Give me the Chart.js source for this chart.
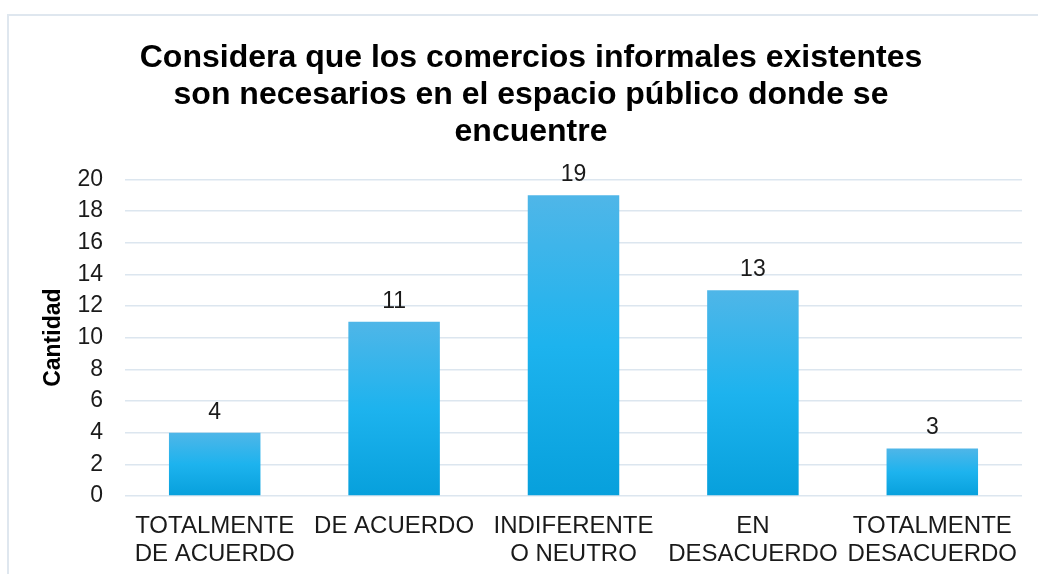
<!DOCTYPE html>
<html>
<head>
<meta charset="utf-8">
<script src="https://cdn.jsdelivr.net/npm/chart.js@4.4.1/dist/chart.umd.min.js"></script>
<style>
  html, body { margin: 0; padding: 0; background: #fff; }
  #wrap { position: relative; width: 1038px; height: 574px; overflow: hidden; }
  #frame { position: absolute; left: 7px; top: 14px; width: 1040px; height: 600px;
           border: 2px solid #dfe7ef; box-sizing: border-box; }
  #c { position: absolute; left: 0; top: 0; }
</style>
</head>
<body>
<div id="wrap">
  <div id="frame"></div>
  <canvas id="c" width="1038" height="574"></canvas>
</div>
<script>
// ============= DATA =============
const titleLines = [
  'Considera que los comercios informales existentes',
  'son necesarios en el espacio público donde se',
  'encuentre'
];
const categories = [
  ['TOTALMENTE', 'DE ACUERDO'],
  ['DE ACUERDO'],
  ['INDIFERENTE', 'O NEUTRO'],
  ['EN', 'DESACUERDO'],
  ['TOTALMENTE', 'DESACUERDO']
];
const cantidad = [4, 11, 19, 13, 3];
const yTicks = [0, 2, 4, 6, 8, 10, 12, 14, 16, 18, 20];

const FONT = '"Liberation Sans", Arial, sans-serif';

// gradient per bar, lighter on top
function barFill(context) {
  const chart = context.chart;
  const yScale = chart.scales.y;
  if (!yScale || !chart.chartArea) return '#1cb0ea';
  const v = context.raw;
  const top = yScale.getPixelForValue(v);
  const bottom = yScale.getPixelForValue(0);
  if (!isFinite(top) || !isFinite(bottom) || top === bottom) return '#1cb0ea';
  const g = chart.ctx.createLinearGradient(0, top, 0, bottom);
  g.addColorStop(0, '#4fb6e8');
  g.addColorStop(0.5, '#1db3ee');
  g.addColorStop(1, '#07a0dc');
  return g;
}

// simple value labels above bars (no datalabels plugin available)
const valueLabels = {
  id: 'valueLabels',
  afterDatasetsDraw(chart) {
    const ctx = chart.ctx;
    const meta = chart.getDatasetMeta(0);
    ctx.save();
    ctx.font = '23px ' + FONT;
    ctx.fillStyle = '#1a1a1a';
    ctx.textAlign = 'center';
    ctx.textBaseline = 'bottom';
    meta.data.forEach((bar, i) => {
      ctx.fillText(String(cantidad[i]), bar.x, bar.y - 9);
    });
    ctx.restore();
  }
};

new Chart(document.getElementById('c'), {
  type: 'bar',
  data: {
    labels: categories,
    datasets: [{
      label: 'Cantidad',
      data: cantidad,
      backgroundColor: barFill,
      borderWidth: 0,
      categoryPercentage: 1,
      barPercentage: 0.51
    }]
  },
  options: {
    responsive: false,
    animation: false,
    devicePixelRatio: 1,
    layout: { padding: { left: 40, right: 16, top: 0, bottom: 4 } },
    plugins: {
      legend: { display: false },
      tooltip: { enabled: false },
      title: {
        display: true,
        text: titleLines,
        color: '#000',
        font: { family: FONT, size: 32, weight: 'bold', lineHeight: 1.17 },
        padding: { top: 39, bottom: 28 }
      }
    },
    scales: {
      x: {
        grid: { display: false, drawTicks: false },
        border: { display: false },
        ticks: {
          color: '#1a1a1a',
          font: { family: FONT, size: 24, lineHeight: 1.17 },
          padding: 16,
          maxRotation: 0,
          autoSkip: false
        },
        afterFit(scale) { scale.height = 574 - 496 - 4; }
      },
      y: {
        min: 0,
        max: 20,
        afterBuildTicks(scale) { scale.ticks = yTicks.map(v => ({ value: v })); },
        grid: { color: '#dce6ef', lineWidth: 1.5, drawTicks: false },
        border: { display: false },
        ticks: {
          color: '#1a1a1a',
          font: { family: FONT, size: 23 },
          padding: 22
        },
        title: {
          display: true,
          text: 'Cantidad',
          color: '#000',
          font: { family: FONT, size: 23, weight: 'bold', lineHeight: 1.2 },
          padding: 0
        },
        afterFit(scale) { scale.width = 125 - 40; }
      }
    }
  },
  plugins: [valueLabels]
});
</script>
</body>
</html>
